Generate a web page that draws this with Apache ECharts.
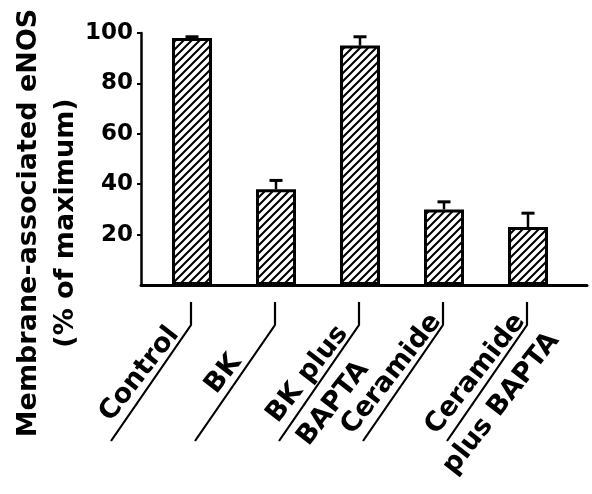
<!DOCTYPE html>
<html>
<head>
<meta charset="utf-8">
<script src="https://cdn.jsdelivr.net/npm/echarts@6/dist/echarts.min.js"></script>
<style>
  html, body { margin: 0; padding: 0; background: #fff; }
  #chart { width: 592px; height: 494px; }
</style>
</head>
<body>
<div id="chart"></div>
<script>
const categories = ['Control', 'BK', 'BK plus\nBAPTA', 'Ceramide', 'Ceramide\nplus BAPTA']
const values = [98, 38, 95, 30, 23]
const errors = [0.5, 3.5, 3.5, 3, 5.5]
const yTicks = [20, 40, 60, 80, 100]

const fontFamily = '"DejaVu Sans"'
const labelFont = 'bold 27px "DejaVu Sans"'

// diagonal hatch used as bar fill
function hatch() {
  const s = 8
  const c = document.createElement('canvas')
  c.width = s
  c.height = s
  const ctx = c.getContext('2d')
  ctx.fillStyle = '#fff'
  ctx.fillRect(0, 0, s, s)
  ctx.strokeStyle = '#000'
  ctx.lineWidth = 2
  ctx.beginPath()
  ctx.moveTo(-1, s + 1); ctx.lineTo(s + 1, -1)
  ctx.moveTo(-1, 1); ctx.lineTo(1, -1)
  ctx.moveTo(s - 1, s + 1); ctx.lineTo(s + 1, s - 1)
  ctx.stroke()
  return c
}

const chart = echarts.init(document.getElementById('chart'))

// slanted category labels with the bent underline
function renderLabel(params, api) {
  const i = api.value(0)
  const p = api.coord([i, 0])
  const cx = p[0] - 1
  const ay = p[1]
  const c = [cx, ay + 40]
  const end = [cx - 80, ay + 156]
  const len = Math.hypot(end[0] - c[0], end[1] - c[1])
  const u = [(end[0] - c[0]) / len, (end[1] - c[1]) / len]
  const up = [-u[1], u[0]] // normal pointing up-left
  const m = [c[0] + u[0] * len / 2, c[1] + u[1] * len / 2]
  const rot = 52 * Math.PI / 180
  const parts = categories[i].split('\n')
  const children = [{
    type: 'polyline',
    shape: { points: [[cx, ay + 17], c, end] },
    style: { stroke: '#000', lineWidth: 2.2, fill: null }
  }, {
    type: 'text',
    x: m[0] + 1 * up[0],
    y: m[1] + 1 * up[1],
    rotation: rot,
    style: { text: parts[0], font: labelFont, fill: '#000', align: 'center', verticalAlign: 'bottom' }
  }]
  if (parts[1]) {
    children.push({
      type: 'text',
      x: m[0] - 10 * up[0] + 8 * u[0],
      y: m[1] - 10 * up[1] + 8 * u[1],
      rotation: rot,
      style: { text: parts[1], font: labelFont, fill: '#000', align: 'center', verticalAlign: 'top' }
    })
  }
  return { type: 'group', children: children }
}

function renderError(params, api) {
  const i = api.value(0)
  const base = api.coord([i, api.value(1)])
  const top = api.coord([i, api.value(1) + api.value(2)])
  return {
    type: 'group',
    children: [{
      type: 'line',
      shape: { x1: base[0], y1: base[1], x2: top[0], y2: top[1] },
      style: { stroke: '#000', lineWidth: 2.5 }
    }, {
      type: 'line',
      shape: { x1: top[0] - 6.5, y1: top[1], x2: top[0] + 6.5, y2: top[1] },
      style: { stroke: '#000', lineWidth: 3 }
    }]
  }
}

chart.setOption({
  animation: false,
  backgroundColor: '#fff',
  grid: [
    { left: 150, right: 22, top: 33, bottom: 209, containLabel: false, outerBoundsMode: 'none' },
    { left: 141, right: 5, top: 33, bottom: 209, containLabel: false, outerBoundsMode: 'none' }
  ],
  xAxis: [{
    type: 'category',
    gridIndex: 0,
    data: categories,
    axisLine: { show: false },
    axisTick: { show: false },
    axisLabel: { show: false }
  }, {
    type: 'value',
    gridIndex: 1,
    min: 0,
    max: 1,
    axisLine: { show: true, lineStyle: { color: '#000', width: 3 } },
    axisTick: { show: false },
    axisLabel: { show: false },
    splitLine: { show: false }
  }],
  yAxis: [{
    type: 'value',
    gridIndex: 0,
    min: 0,
    max: 100,
    interval: 20,
    offset: 9,
    name: 'Membrane-associated eNOS\n(% of maximum)',
    nameLocation: 'middle',
    nameGap: 57,
    nameRotate: 90,
    nameMoveOverlap: false,
    nameTextStyle: {
      fontFamily: fontFamily,
      fontWeight: 'bold',
      fontSize: 27,
      color: '#000',
      lineHeight: 37,
      padding: [0, 128, 0, 0]
    },
    axisLine: { show: true, lineStyle: { color: '#000', width: 2.5 } },
    axisTick: { show: true, length: 4, lineStyle: { color: '#000', width: 2 } },
    axisLabel: {
      showMinLabel: false,
      margin: 8,
      fontFamily: fontFamily,
      fontWeight: 'bold',
      fontSize: 23,
      color: '#000',
      formatter: v => yTicks.includes(v) ? String(v) : ''
    },
    splitLine: { show: false }
  }, {
    type: 'value',
    gridIndex: 1,
    min: 0,
    max: 100,
    show: false
  }],
  series: [{
    type: 'bar',
    xAxisIndex: 0,
    yAxisIndex: 0,
    data: values,
    barWidth: 40,
    silent: true,
    itemStyle: {
      color: { image: hatch(), repeat: 'repeat' },
      borderColor: '#000',
      borderWidth: 3
    }
  }, {
    type: 'custom',
    xAxisIndex: 0,
    yAxisIndex: 0,
    z: 3,
    silent: true,
    data: values.map((v, i) => [i, v, errors[i]]),
    renderItem: renderError
  }, {
    type: 'custom',
    xAxisIndex: 0,
    yAxisIndex: 0,
    silent: true,
    clip: false,
    data: categories.map((c, i) => [i, 0]),
    renderItem: renderLabel
  }]
})
</script>
</body>
</html>
